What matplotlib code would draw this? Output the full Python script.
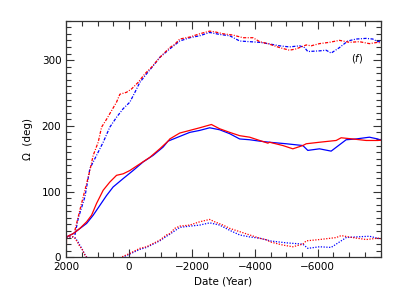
import matplotlib
matplotlib.use("Agg")
import matplotlib.pyplot as plt
from matplotlib.ticker import MultipleLocator

# ---- data (year, Omega in degrees) ----
top_red_year = [1724, 1565, 1406, 1248, 1143, 984, 876, 717, 559, 400, 295, 82, -76, -286, -499,
                -711, -975, -1188, -1293, -1452, -1610, -1928, -2245, -2562, -2720, -2986, -3305,
                -3622, -3940, -4151, -4413, -4785, -5100, -5313, -5472, -5633, -5790, -6054, -6372,
                -6690, -7007, -7325, -7643, -7906, -8000]
top_red_val = [41, 72, 102, 132, 155, 175, 198, 210, 223, 236, 248, 251, 256, 266, 279,
               289, 304, 314, 319, 324, 332, 335, 340, 344, 343, 340, 338,
               334, 334, 328, 325, 319, 315, 317, 320, 323, 321.7, 325, 327,
               330, 327, 328, 325, 327, 326]

top_blue_year = [1724, 1619, 1406, 1248, 825, 613, 400, 190, -23, -185, -340, -553, -762, -975,
                 -1293, -1505, -1610, -1928, -2245, -2562, -2880, -3200, -3516, -3834, -4151,
                 -4413, -4785, -5100, -5420, -5580, -5683, -6054, -6266, -6426, -6690, -6955,
                 -7218, -7538, -7750, -7906, -8000]
top_blue_val = [34, 59, 92, 135, 175, 198, 213, 226, 236, 251, 266, 279, 291, 304,
                317, 325, 329, 334, 337, 342, 339, 337, 329, 328, 327,
                325, 321.7, 320, 321.7, 319, 313, 314, 315, 310.6, 319, 329,
                332, 333, 332, 328, 329]

mid_red_year = [2000, 1990, 1778, 1565, 1352, 1194, 1035, 825, 613, 400, 190, -23, -340, -657,
                -975, -1238, -1293, -1610, -1928, -2245, -2617, -2880, -3200, -3516, -3834,
                -4151, -4413, -4467, -4890, -5207, -5525, -5633, -6054, -6585, -6744, -7112,
                -7538, -7906, -8000]
mid_red_val = [2, 31, 36, 44, 54, 64, 82, 102, 114.5, 124.7, 127, 132, 142, 152,
               165, 176.7, 180, 189, 193, 197, 202, 195.5, 190, 185, 182.7,
               177.7, 173.6, 175, 170, 165, 170, 172.7, 175, 177.7, 181.8, 180,
               177.7, 177.7, 178]

mid_blue_year = [1990, 1778, 1352, 1143, 930, 717, 508, 190, -127, -445, -762, -1080, -1238,
                 -1928, -2245, -2562, -2880, -3200, -3516, -3834, -4151, -4467, -4998, -5525,
                 -5683, -6054, -6426, -6903, -7218, -7643, -7906, -8000]
mid_blue_val = [31, 36, 51.5, 64, 79, 94, 107, 119.7, 132, 145, 155, 167.6, 176.7,
                190, 193, 197, 194, 188, 180, 178.8, 176.7, 175, 172.7, 170,
                162.6, 165, 161.5, 178.8, 180, 182.7, 180, 178]

bot_red_year = [1990, 1778, 1724, 1619, 1565, 1511, 1457, 1406, 1352, 1300,
                350, -23, -340, -553, -762, -975, -1188, -1293, -1452, -1610, -1928, -2245,
                -2562, -2720, -2986, -3200, -3516, -3834, -4151, -4413, -4467, -4890, -5207,
                -5525, -5633, -6054, -6585, -6744, -7112, -7538, -7906, -8000]
bot_red_val = [31, 31, 29, 21, 16, 13.6, 8.5, 3.5, 0, -4,
               -2, 6, 13.6, 16, 21, 26, 34, 36, 44, 47.4, 49, 54,
               57.6, 54, 49, 44, 39, 34, 29, 26, 23.6, 18.6, 16,
               20, 25, 27, 30, 33, 30, 27, 29, 28]

bot_blue_year = [1990, 1778, 1724, 1619, 1565, 1511, 1457, 1406, 1352, 1300,
                 300, -23, -340, -553, -762, -975, -1188, -1293, -1610, -1928, -2245, -2562,
                 -2880, -3200, -3516, -3834, -4151, -4413, -4467, -4998, -5525, -5683, -6054,
                 -6426, -6903, -7218, -7643, -7906, -8000]
bot_blue_val = [31, 31, 30, 23, 18, 14, 9, 4, 0.5, -4,
                -2, 5, 12, 15, 20, 25, 32, 35, 45.5, 47.4, 49, 52.4,
                49, 41, 34, 31, 29, 26, 25, 22, 20, 13.6, 16,
                15, 30, 31, 32, 29, 28]

xticks = [2000, 0, -2000, -4000, -6000]
yticks = [0, 100, 200, 300]

fig = plt.figure(figsize=(3.99, 2.99), dpi=100)
ax = fig.add_axes([0.166, 0.1395, 0.788, 0.7915])

red = "#ff0000"
blue = "#0000ff"
lw = 0.9
top_ls = (0, (2.5, 1.2, 0.8, 1.2))
bot_ls = (0, (1, 1.2))
ax.plot(top_blue_year, top_blue_val, color=blue, lw=lw, ls=top_ls)
ax.plot(top_red_year, top_red_val, color=red, lw=lw, ls=top_ls)
ax.plot(mid_blue_year, mid_blue_val, color=blue, lw=lw, ls="-")
ax.plot(mid_red_year, mid_red_val, color=red, lw=lw, ls="-")
ax.plot(bot_blue_year, bot_blue_val, color=blue, lw=lw, ls=bot_ls)
ax.plot(bot_red_year, bot_red_val, color=red, lw=lw, ls=bot_ls)

ax.set_xlim(2000, -8000)
ax.set_ylim(0, 360)
ax.set_xticks(xticks)
ax.set_yticks(yticks)
ax.xaxis.set_minor_locator(MultipleLocator(500))
ax.yaxis.set_minor_locator(MultipleLocator(10))
ax.tick_params(which="both", direction="in", top=True, right=True, labelsize=7.5,
               color="#333333", width=0.8)
ax.tick_params(which="major", length=6)
ax.tick_params(which="minor", length=3.5)
for s in ax.spines.values():
    s.set_linewidth(0.9)
    s.set_color("#333333")

ax.set_xlabel("Date (Year)", fontsize=7.5, labelpad=3)
ax.set_ylabel("Ω  (deg)", fontsize=7.5, labelpad=6)
ax.text(0.925, 0.842, r"($f$)", transform=ax.transAxes, fontsize=7, ha="center", va="center")

fig.savefig("out.png", dpi=100)
